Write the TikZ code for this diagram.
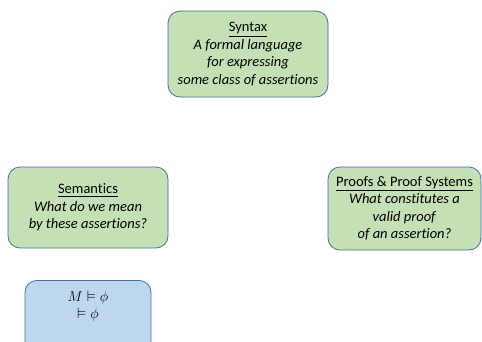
\documentclass[tikz,border=0pt]{standalone}
\usepackage{amsmath,amssymb}
\usepackage{fontspec}
\setmainfont[Ligatures=NoCommon]{Carlito}
\usepackage{xcolor}
\usepackage{tikz}
\usetikzlibrary{positioning}

\definecolor{boxgreen}{HTML}{C5E0B4}
\definecolor{boxblue}{HTML}{BDD7EE}
\definecolor{boxline}{HTML}{41719C}

\tikzset{
    topic/.style={draw=boxline, fill=boxgreen, rounded corners=12pt, line width=0.8pt,
        align=center, inner sep=0pt, font=\fontsize{14.5}{17.5}\selectfont},
    notation/.style={topic, fill=boxblue}
}

\begin{document}
\begin{tikzpicture}[x=1pt,y=-1pt]
    \useasboundingbox (0,0) rectangle (482,341);
    \node[topic, minimum width=160pt, minimum height=86pt] (syntax) at (248,54)
        {\underline{Syntax}\\ \textit{A formal language}\\ \textit{for expressing}\\ \textit{some class of assertions}};
    \node[topic, minimum width=160pt, minimum height=81pt] (semantics) at (88,207.5)
        {\underline{Semantics}\\ \textit{What do we mean}\\ \textit{by these assertions?}};
    \node[topic, minimum width=153pt, minimum height=83pt] (proofs) at (404.5,208.5)
        {\underline{Proofs \& Proof Systems}\\ \textit{What constitutes a}\\ \textit{valid proof}\\ \textit{of an assertion?}};
    % truth notation, cut off at the bottom
    \node[notation, minimum width=126pt, minimum height=80pt, anchor=north] (models) at (88,280) {};
    \node[font=\fontsize{15}{16.5}\selectfont, align=center] (modtext) at (88,306) {$M \vDash \phi$\\ $\vDash \phi$};
\end{tikzpicture}
\end{document}
